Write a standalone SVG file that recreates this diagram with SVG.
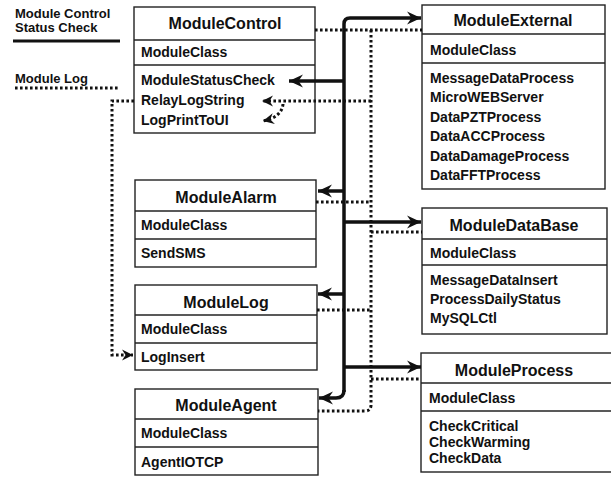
<svg xmlns="http://www.w3.org/2000/svg" width="611" height="478" viewBox="0 0 611 478">
  <style>
    text { font-family: "Liberation Sans", Arial, sans-serif; font-weight: bold; fill: #111; dominant-baseline: central; }
    .hdr { font-size: 16px; text-anchor: middle; }
    .mem { font-size: 14px; }
    .leg { font-size: 13px; }
    .box { fill: #fff; stroke: #222; stroke-width: 1.4; }
    .div { stroke: #222; stroke-width: 1.4; }
    .thick { fill: none; stroke: #111; stroke-width: 3.5; }
    .dot { fill: none; stroke: #111; stroke-width: 3; stroke-dasharray: 2.6 2.4; }
  </style>
  <defs>
    <marker id="ah" markerUnits="userSpaceOnUse" markerWidth="16" markerHeight="16" refX="14" refY="8" orient="auto">
      <path d="M0,1.5 L14,8 L0,14.5 L4.5,8 z" fill="#111"/>
    </marker>
    <marker id="ahs" markerUnits="userSpaceOnUse" markerWidth="14" markerHeight="14" refX="11" refY="7" orient="auto">
      <path d="M0,1.5 L11,7 L0,12.5 L3.5,7 z" fill="#111"/>
    </marker>
  </defs>
  <rect width="611" height="478" fill="#fff"/>

  <g id="legend">
    <text class="leg" x="15" y="13">Module Control</text>
    <text class="leg" x="15" y="27">Status Check</text>
    <line x1="13" y1="41" x2="120" y2="41" stroke="#111" stroke-width="3"/>
    <text class="leg" x="15" y="78">Module Log</text>
    <line x1="15" y1="88" x2="120" y2="88" class="dot"/>
  </g>

  <g id="ModuleControl">
    <rect class="box" x="134" y="7" width="181" height="126"/>
    <line class="div" x1="134" y1="40" x2="315" y2="40"/>
    <line class="div" x1="134" y1="65" x2="315" y2="65"/>
    <text class="hdr" x="225" y="23">ModuleControl</text>
    <text class="mem" x="141" y="52">ModuleClass</text>
    <text class="mem" x="141" y="80">ModuleStatusCheck</text>
    <text class="mem" x="141" y="100">RelayLogString</text>
    <text class="mem" x="141" y="120">LogPrintToUI</text>
  </g>

  <g id="ModuleExternal">
    <rect class="box" x="422" y="5" width="183" height="184"/>
    <line class="div" x1="422" y1="34" x2="605" y2="34"/>
    <line class="div" x1="422" y1="63" x2="605" y2="63"/>
    <text class="hdr" x="513" y="20">ModuleExternal</text>
    <text class="mem" x="430" y="50">ModuleClass</text>
    <text class="mem" x="430" y="78">MessageDataProcess</text>
    <text class="mem" x="430" y="97">MicroWEBServer</text>
    <text class="mem" x="430" y="117">DataPZTProcess</text>
    <text class="mem" x="430" y="136">DataACCProcess</text>
    <text class="mem" x="430" y="156">DataDamageProcess</text>
    <text class="mem" x="430" y="175">DataFFTProcess</text>
  </g>

  <g id="ModuleAlarm">
    <rect class="box" x="135" y="180" width="181" height="87"/>
    <line class="div" x1="135" y1="211" x2="316" y2="211"/>
    <line class="div" x1="135" y1="239" x2="316" y2="239"/>
    <text class="hdr" x="226" y="197">ModuleAlarm</text>
    <text class="mem" x="141" y="225">ModuleClass</text>
    <text class="mem" x="141" y="253">SendSMS</text>
  </g>

  <g id="ModuleDataBase">
    <rect class="box" x="422" y="208" width="185" height="126"/>
    <line class="div" x1="422" y1="239" x2="607" y2="239"/>
    <line class="div" x1="422" y1="265" x2="607" y2="265"/>
    <text class="hdr" x="514" y="225">ModuleDataBase</text>
    <text class="mem" x="430" y="253">ModuleClass</text>
    <text class="mem" x="430" y="280">MessageDataInsert</text>
    <text class="mem" x="430" y="299">ProcessDailyStatus</text>
    <text class="mem" x="430" y="318">MySQLCtl</text>
  </g>

  <g id="ModuleLog">
    <rect class="box" x="135" y="285" width="182" height="85"/>
    <line class="div" x1="135" y1="315" x2="317" y2="315"/>
    <line class="div" x1="135" y1="343" x2="317" y2="343"/>
    <text class="hdr" x="226" y="302">ModuleLog</text>
    <text class="mem" x="141" y="329">ModuleClass</text>
    <text class="mem" x="141" y="357">LogInsert</text>
  </g>

  <g id="ModuleProcess">
    <rect class="box" x="421" y="353" width="192" height="119"/>
    <line class="div" x1="421" y1="383" x2="613" y2="383"/>
    <line class="div" x1="421" y1="411" x2="613" y2="411"/>
    <text class="hdr" x="514" y="370">ModuleProcess</text>
    <text class="mem" x="429" y="398">ModuleClass</text>
    <text class="mem" x="429" y="426">CheckCritical</text>
    <text class="mem" x="429" y="442">CheckWarming</text>
    <text class="mem" x="429" y="458">CheckData</text>
  </g>

  <g id="ModuleAgent">
    <rect class="box" x="135" y="389" width="183" height="86"/>
    <line class="div" x1="135" y1="419" x2="318" y2="419"/>
    <line class="div" x1="135" y1="447" x2="318" y2="447"/>
    <text class="hdr" x="226" y="405">ModuleAgent</text>
    <text class="mem" x="141" y="433">ModuleClass</text>
    <text class="mem" x="141" y="462">AgentIOTCP</text>
  </g>

  <g id="connectors">
    <!-- solid control connectors -->
    <path class="thick" d="M344,392 V24 Q344,18 350,18 H421" marker-end="url(#ah)"/>
    <path class="thick" d="M344,390 Q344,398 336,398 H319" marker-end="url(#ah)"/>
    <path class="thick" d="M344,81 H289" marker-end="url(#ah)"/>
    <path class="thick" d="M344,191 H318" marker-end="url(#ah)"/>
    <path class="thick" d="M344,222 H421" marker-end="url(#ah)"/>
    <path class="thick" d="M344,294 H318" marker-end="url(#ah)"/>
    <path class="thick" d="M344,367 H421" marker-end="url(#ah)"/>
    <!-- dotted log connectors -->
    <path class="dot" d="M315,30 H422"/>
    <path class="dot" d="M371,30 V405 Q371,411 365,411 H318"/>
    <path class="dot" d="M371,101 H262" marker-end="url(#ahs)"/>
    <path class="dot" d="M283,104 Q282,117 263,121" marker-end="url(#ahs)"/>
    <path class="dot" d="M316,202 H371"/>
    <path class="dot" d="M371,232 H422"/>
    <path class="dot" d="M317,310 H371"/>
    <path class="dot" d="M371,379 H421"/>
    <path class="dot" d="M134,101 H112 V355 H133" marker-end="url(#ahs)"/>
  </g>
</svg>
